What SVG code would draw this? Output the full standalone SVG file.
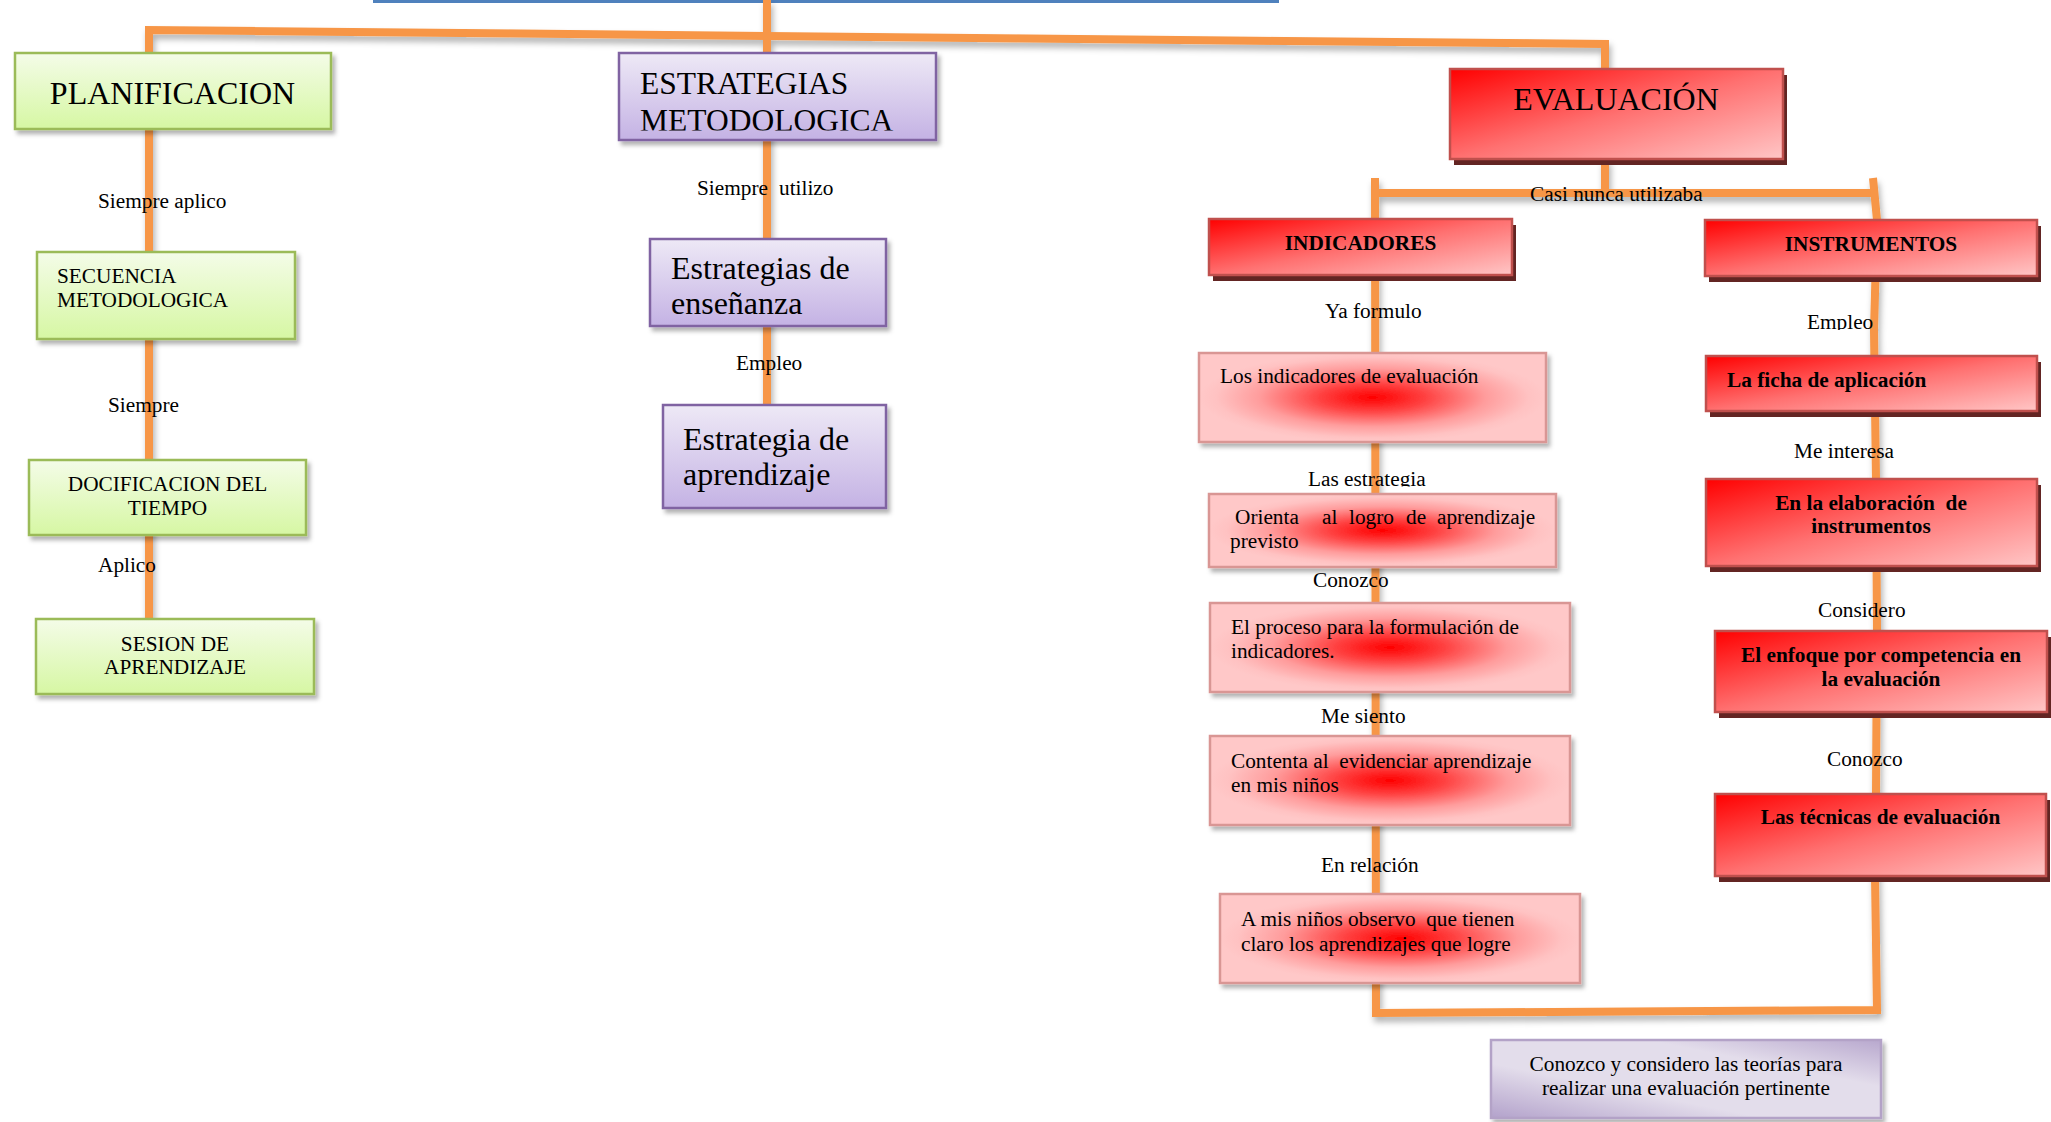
<svg xmlns="http://www.w3.org/2000/svg" width="2051" height="1122" viewBox="0 0 2051 1122">
<style>
.t{font-family:"Liberation Serif","Times New Roman",serif;fill:#000}
.s21{font-size:21.3px}
.s32{font-size:32px}
.b{font-weight:bold}
.m{text-anchor:middle}
.gbox{fill:url(#gG);stroke:#9BBB59;stroke-width:2.5;filter:url(#sh)}
.pbox{fill:url(#gP);stroke:#8064A2;stroke-width:2.5;filter:url(#sh)}
.rbox{fill:url(#gR);stroke:#C0504D;stroke-width:2.5}
.rsh{fill:#632523}
.kbox{fill:url(#gK);stroke:#D99694;stroke-width:2.5;filter:url(#sh)}
.qbox{fill:url(#gQ);stroke:#B3A2C7;stroke-width:2.5;filter:url(#sh)}
.conn{fill:none;stroke:#F79646;stroke-width:8;stroke-linejoin:miter}
</style>
<defs>
<filter id="sh" x="-10%" y="-20%" width="130%" height="150%">
<feDropShadow dx="3" dy="4" stdDeviation="2" flood-color="#000" flood-opacity="0.3"/>
</filter>
<filter id="csh" x="-5%" y="-5%" width="110%" height="110%">
<feDropShadow dx="2" dy="5" stdDeviation="3" flood-color="#000" flood-opacity="0.3"/>
</filter>
<linearGradient id="gG" x1="0" y1="0" x2="0" y2="1">
<stop offset="0" stop-color="#F4FCE8"/>
<stop offset="1" stop-color="#D6F7A3"/>
</linearGradient>
<linearGradient id="gP" x1="0" y1="0" x2="0" y2="1">
<stop offset="0" stop-color="#EEE9F6"/>
<stop offset="1" stop-color="#C4B2E4"/>
</linearGradient>
<linearGradient id="gR" x1="0" y1="0" x2="1" y2="1">
<stop offset="0" stop-color="#FF0000"/>
<stop offset="0.5" stop-color="#FF7070"/>
<stop offset="1" stop-color="#FFC6C6"/>
</linearGradient>
<radialGradient id="gK" cx="0.5" cy="0.5" r="0.5">
<stop offset="0" stop-color="#FF0000"/>
<stop offset="0.3" stop-color="#FF4040"/>
<stop offset="0.65" stop-color="#FF9C9C"/>
<stop offset="0.9" stop-color="#FFC2C2"/>
<stop offset="1" stop-color="#FFC8C8"/>
</radialGradient>
<linearGradient id="gQ" x1="0" y1="1" x2="1" y2="0">
<stop offset="0" stop-color="#B3A2CB"/>
<stop offset="0.35" stop-color="#E3DDEB"/>
<stop offset="0.7" stop-color="#E3DDEB"/>
<stop offset="1" stop-color="#B8A8CE"/>
</linearGradient>
<clipPath id="cEM"><rect x="600" y="40" width="360" height="90.5"/></clipPath>
<clipPath id="cLE"><rect x="1290" y="460" width="160" height="26.5"/></clipPath>
<clipPath id="cEm"><rect x="1790" y="300" width="100" height="30"/></clipPath>
</defs>

<rect x="373" y="0" width="906" height="3" fill="#4F81BD"/>

<g id="connectors" filter="url(#csh)">
<path class="conn" d="M149,619 L149,30 L767,36 L1605,44 L1605,69"/>
<path class="conn" d="M767,0 L767,405"/>
<path class="conn" d="M1605,159 L1605,193"/>
<path class="conn" d="M1375,193 L1874,193"/>
<path class="conn" d="M1375,178 L1376,1013 L1877,1010 L1875,876 L1876,794 L1877,630 L1876,480 L1874,330 L1877,220 L1873,178"/>
</g>

<g id="n-planificacion">
<rect class="gbox" x="15" y="53" width="316" height="76"/>
<text class="t s32 m" x="172.5" y="104">PLANIFICACION</text>
</g>
<g id="n-secuencia">
<rect class="gbox" x="37" y="252" width="258" height="87"/>
<text class="t s21" x="57" y="283">SECUENCIA</text>
<text class="t s21" x="57" y="307">METODOLOGICA</text>
</g>
<g id="n-dosificacion">
<rect class="gbox" x="29" y="460" width="277" height="75"/>
<text class="t s21 m" x="167.5" y="491">DOCIFICACION DEL</text>
<text class="t s21 m" x="167.5" y="515">TIEMPO</text>
</g>
<g id="n-sesion">
<rect class="gbox" x="36" y="619" width="278" height="75"/>
<text class="t s21 m" x="175" y="651">SESION DE</text>
<text class="t s21 m" x="175" y="674">APRENDIZAJE</text>
</g>

<g id="n-estrategias">
<rect class="pbox" x="619" y="53" width="317" height="87"/>
<g clip-path="url(#cEM)">
<text class="t" style="font-size:31.5px" x="640" y="94">ESTRATEGIAS</text>
<text class="t" style="font-size:31.5px" x="640" y="131">METODOLOGICA</text>
</g>
</g>
<g id="n-ensenanza">
<rect class="pbox" x="650" y="239" width="236" height="87"/>
<text class="t s32" x="671" y="279">Estrategias de</text>
<text class="t s32" x="671" y="314">enseñanza</text>
</g>
<g id="n-aprendizaje">
<rect class="pbox" x="663" y="405" width="223" height="103"/>
<text class="t s32" x="683" y="450">Estrategia de</text>
<text class="t s32" x="683" y="485">aprendizaje</text>
</g>

<g id="n-evaluacion">
<rect class="rsh" x="1454" y="75" width="333" height="90"/>
<rect class="rbox" x="1450" y="69" width="333" height="90"/>
<text class="t s32 m" x="1616" y="110">EVALUACIÓN</text>
</g>
<g id="n-indicadores">
<rect class="rsh" x="1213" y="225" width="303" height="56"/>
<rect class="rbox" x="1209" y="219" width="303" height="56"/>
<text class="t s21 b m" x="1360.5" y="250">INDICADORES</text>
</g>
<g id="n-instrumentos">
<rect class="rsh" x="1709" y="226" width="332" height="56"/>
<rect class="rbox" x="1705" y="220" width="332" height="56"/>
<text class="t s21 b m" x="1871" y="251">INSTRUMENTOS</text>
</g>
<g id="n-ficha">
<rect class="rsh" x="1710" y="362" width="331" height="55"/>
<rect class="rbox" x="1706" y="356" width="331" height="55"/>
<text class="t s21 b" x="1727" y="387">La ficha de aplicación</text>
</g>
<g id="n-elaboracion">
<rect class="rsh" x="1710" y="485" width="331" height="87"/>
<rect class="rbox" x="1706" y="479" width="331" height="87"/>
<text class="t s21 b m" x="1871" y="510" xml:space="preserve">En la elaboración  de</text>
<text class="t s21 b m" x="1871" y="533">instrumentos</text>
</g>
<g id="n-enfoque">
<rect class="rsh" x="1719" y="637" width="332" height="81"/>
<rect class="rbox" x="1715" y="631" width="332" height="81"/>
<text class="t s21 b m" x="1881" y="662">El enfoque por competencia en</text>
<text class="t s21 b m" x="1881" y="686">la evaluación</text>
</g>
<g id="n-tecnicas">
<rect class="rsh" x="1719" y="800" width="331" height="82"/>
<rect class="rbox" x="1715" y="794" width="331" height="82"/>
<text class="t s21 b m" x="1880.5" y="824">Las técnicas de evaluación</text>
</g>

<g id="n-indicadores-eval">
<rect class="kbox" x="1199" y="353" width="347" height="89"/>
<text class="t s21" x="1220" y="383">Los indicadores de evaluación</text>
</g>
<g id="n-orienta">
<rect class="kbox" x="1209" y="494" width="347" height="73"/>
<text class="t s21" y="524"><tspan x="1235">Orienta</tspan><tspan x="1322">al</tspan><tspan x="1349">logro</tspan><tspan x="1406">de</tspan><tspan x="1437">aprendizaje</tspan></text>
<text class="t s21" x="1230" y="548">previsto</text>
</g>
<g id="n-proceso">
<rect class="kbox" x="1210" y="603" width="360" height="89"/>
<text class="t s21" x="1231" y="634">El proceso para la formulación de</text>
<text class="t s21" x="1231" y="658">indicadores.</text>
</g>
<g id="n-contenta">
<rect class="kbox" x="1210" y="736" width="360" height="89"/>
<text class="t s21" x="1231" y="768" xml:space="preserve">Contenta al  evidenciar aprendizaje</text>
<text class="t s21" x="1231" y="792">en mis niños</text>
</g>
<g id="n-observo">
<rect class="kbox" x="1220" y="894" width="360" height="89"/>
<text class="t s21" x="1241" y="926" xml:space="preserve">A mis niños observo  que tienen</text>
<text class="t s21" x="1241" y="951">claro los aprendizajes que logre</text>
</g>
<g id="n-teorias">
<rect class="qbox" x="1491" y="1040" width="390" height="78"/>
<text class="t s21 m" x="1686" y="1071">Conozco y considero las teorías para</text>
<text class="t s21 m" x="1686" y="1095">realizar una evaluación pertinente</text>
</g>

<g id="connector-labels">
<text class="t s21" x="98" y="208">Siempre aplico</text>
<text class="t s21" x="108" y="412">Siempre</text>
<text class="t s21" x="98" y="572">Aplico</text>
<text class="t s21" y="195"><tspan x="697">Siempre</tspan><tspan x="779">utilizo</tspan></text>
<text class="t s21" x="736" y="370">Empleo</text>
<text class="t s21" x="1530" y="201">Casi nunca utilizaba</text>
<text class="t s21" x="1325" y="318">Ya formulo</text>
<text class="t s21" x="1807" y="329" clip-path="url(#cEm)">Empleo</text>
<text class="t s21" x="1308" y="485.5" clip-path="url(#cLE)">Las estrategia</text>
<text class="t s21" x="1313" y="587">Conozco</text>
<text class="t s21" x="1321" y="723">Me siento</text>
<text class="t s21" x="1321" y="872">En relación</text>
<text class="t s21" x="1794" y="458">Me interesa</text>
<text class="t s21" x="1818" y="617">Considero</text>
<text class="t s21" x="1827" y="766">Conozco</text>
</g>
</svg>
